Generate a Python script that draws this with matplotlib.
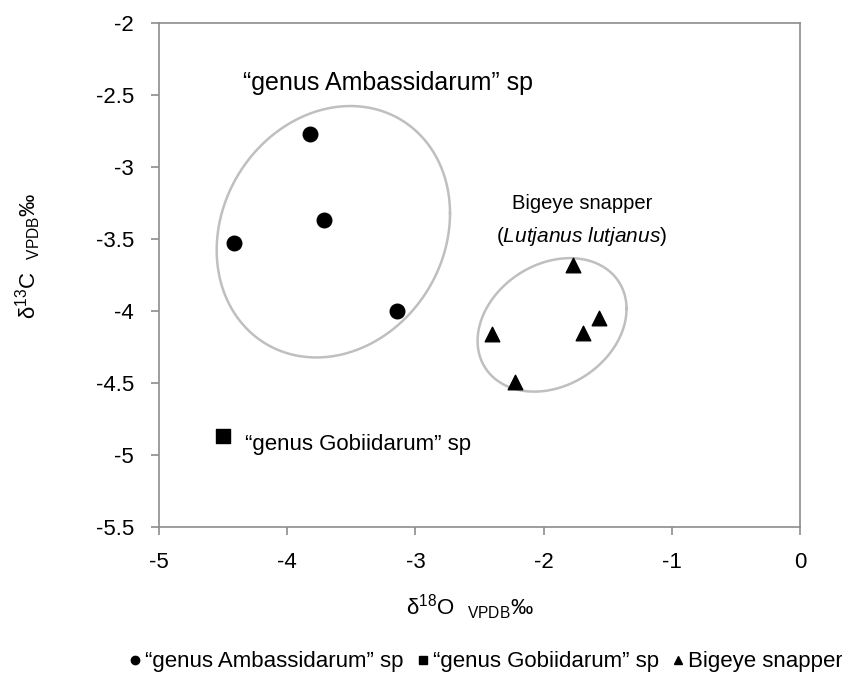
import numpy as np
import matplotlib
matplotlib.use("Agg")
import matplotlib.pyplot as plt
from matplotlib.lines import Line2D

plt.rcParams['font.family'] = ['Liberation Sans', 'DejaVu Sans']
plt.rcParams['mathtext.fontset'] = 'custom'
plt.rcParams['mathtext.rm'] = 'Liberation Sans'
plt.rcParams['mathtext.it'] = 'Liberation Sans:italic'

# ---- data ----
amb_x = [-3.82, -3.71, -4.415, -3.146]
amb_y = [-2.77, -3.37, -3.53, -4.00]
gob_x = [-4.50]
gob_y = [-4.864]
big_x = [-1.768, -1.565, -1.693, -2.40, -2.223]
big_y = [-3.68, -4.05, -4.15, -4.16, -4.49]

series_names = ['\u201cgenus Ambassidarum\u201d sp', '\u201cgenus Gobiidarum\u201d sp', 'Bigeye snapper']

x_ticks = [-5, -4, -3, -2, -1, 0]
y_ticks = [-2, -2.5, -3, -3.5, -4, -4.5, -5, -5.5]

# group outlines: centre x, centre y, half-width, half-height, tilt correlation
ell_amb = (-3.64, -3.45, 0.91, 0.872, 0.146)
ell_big = (-1.934, -4.096, 0.581, 0.463, 0.24)

W, H = 842, 680
fig = plt.figure(figsize=(W / 100, H / 100), dpi=100)
ax = fig.add_axes([159 / W, 1 - 527.3 / H, 641 / W, 504.6 / H])

spine_c = '#8c8c8c'
ax.set_xlim(-5, 0)
ax.set_ylim(-5.5, -2)
ax.set_xticks(x_ticks)
ax.set_yticks(y_ticks)
ax.set_xticklabels([f'{v:g}' for v in x_ticks])
ax.set_yticklabels([f'{v:g}' for v in y_ticks])
for s in ax.spines.values():
    s.set_color(spine_c)
    s.set_linewidth(1.2)
ax.tick_params(direction='out', length=6, width=1.2, color=spine_c,
               labelsize=16, pad=12)

def outline(cx, cy, rx, ry, rho):
    t = np.linspace(0, 2 * np.pi, 300)
    x = cx + rx * np.cos(t)
    y = cy + ry * (rho * np.cos(t) + np.sqrt(1 - rho ** 2) * np.sin(t))
    return x, y

for e in (ell_amb, ell_big):
    ex, ey = outline(*e)
    ax.plot(ex, ey, color='#bfbfbf', lw=1.8, zorder=1)

ax.scatter(amb_x, amb_y, marker='o', s=110, color='black', zorder=3)
ax.scatter(gob_x, gob_y, marker='s', s=90, color='black', zorder=3)
ax.scatter(big_x, big_y, marker='^', s=110, color='black', zorder=3)

ax.text(-4.345, -2.47, '\u201cgenus Ambassidarum\u201d sp', fontsize=18, ha='left', va='baseline')
ax.text(-4.33, -4.963, '\u201cgenus Gobiidarum\u201d sp', fontsize=16, ha='left', va='baseline')
ax.text(-1.70, -3.294, 'Bigeye snapper', fontsize=14.5, ha='center', va='baseline')
ax.text(-1.70, -3.519, '($\\it{Lutjanus\\ lutjanus}$)', fontsize=15, ha='center', va='baseline')

fig.text(470 / W, 1 - 607 / H, 'δ$^{18}$O$_{\\quad\\mathrm{VPDB}}$‰', fontsize=16,
         ha='center', va='center')
fig.text(28 / W, 1 - 256 / H, 'δ$^{13}$C$_{\\quad\\mathrm{VPDB}}$‰', fontsize=16,
         ha='center', va='center', rotation=90)

handles = [Line2D([], [], ls='none', marker='o', ms=6, color='black'),
           Line2D([], [], ls='none', marker='s', ms=6, color='black'),
           Line2D([], [], ls='none', marker='^', ms=6, color='black')]
fig.legend(handles, series_names, loc='center', bbox_to_anchor=(485 / W, 1 - 662 / H),
           ncol=3, frameon=False, fontsize=16, handletextpad=0.1,
           columnspacing=0.5, handlelength=0.7, borderaxespad=0)

fig.savefig('out.png', dpi=100)
